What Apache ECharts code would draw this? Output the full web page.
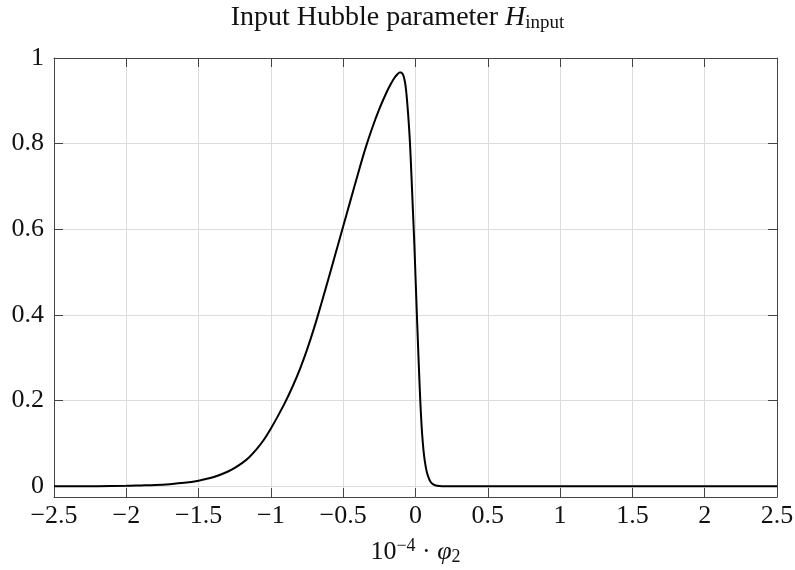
<!DOCTYPE html>
<html>
<head>
<meta charset="utf-8">
<script src="https://cdn.jsdelivr.net/npm/echarts@6/dist/echarts.min.js"></script>
<style>
html,body{margin:0;padding:0;background:#fff;}
#chart{width:795px;height:570px;}
</style>
</head>
<body>
<div id="chart"></div>
<script>
// x values (units of 1e-4 · φ2)
const xValues = [-2.5, -2.2, -2.0, -1.9, -1.8, -1.7, -1.6, -1.5, -1.45, -1.4, -1.35, -1.3, -1.25, -1.2, -1.15, -1.1, -1.05, -1.0,
  -0.95, -0.9, -0.85, -0.8, -0.75, -0.7, -0.65, -0.6, -0.55, -0.5, -0.45, -0.4, -0.35, -0.3, -0.25, -0.2, -0.17, -0.145,
  -0.125, -0.11, -0.1, -0.09, -0.08, -0.068, -0.057, -0.047, -0.038, -0.028, -0.018, -0.008, 0.0, 0.008, 0.016, 0.024, 0.033,
  0.042, 0.051, 0.06, 0.07, 0.08, 0.093, 0.105, 0.12, 0.14, 0.166, 0.2, 0.3, 1.0, 2.5];
// H_input values
const yValues = [0, 0.0002, 0.001, 0.002, 0.003, 0.005, 0.008, 0.013, 0.017, 0.021, 0.027, 0.034, 0.043, 0.054, 0.068, 0.086, 0.108, 0.135,
  0.165, 0.197, 0.233, 0.273, 0.319, 0.371, 0.428, 0.487, 0.547, 0.607, 0.667, 0.727, 0.785, 0.836, 0.881, 0.920, 0.940, 0.954,
  0.962, 0.966, 0.966, 0.963, 0.955, 0.933, 0.895, 0.850, 0.800, 0.725, 0.645, 0.565, 0.490, 0.415, 0.343, 0.273, 0.200,
  0.142, 0.100, 0.070, 0.047, 0.031, 0.018, 0.010, 0.005, 0.002, 0.0007, 0.0002, 0, 0, 0];
const yTicks = [0, 0.2, 0.4, 0.6, 0.8, 1];
const titleText = 'Input Hubble parameter ';

const fmt = v => String(v).replace('-', '\u2212');
const FONT = '"Liberation Serif", "DejaVu Serif", serif';
const frameColor = '#444';
const gridColor = '#dcdcdc';
const FS = 26;

const chart = echarts.init(document.getElementById('chart'), null, {renderer: 'canvas'});
chart.setOption({
  animation: false,
  backgroundColor: '#fff',
  title: {
    text: titleText + '{h|H}{s|input}',
    left: 'center', top: 3, padding: 0,
    textStyle: {
      fontFamily: FONT, fontSize: 28, fontWeight: 'normal', color: '#111',
      rich: {
        h: {fontFamily: FONT, fontSize: 28, fontStyle: 'italic', color: '#111'},
        s: {fontFamily: FONT, fontSize: 19, color: '#111', padding: [11, 0, 0, 0]}
      }
    }
  },
  grid: {left: 54, right: 18, top: 58, bottom: 73, outerBoundsMode: 'none', containLabel: false},
  xAxis: [{
    type: 'value', min: -2.5, max: 2.5, interval: 0.5,
    name: '10{sup|\u22124} \u00b7 {i|\u03c6}{sub|2}',
    nameLocation: 'middle', nameGap: 40,
    nameTextStyle: {
      fontFamily: FONT, fontSize: FS, color: '#111',
      rich: {
        sup: {fontFamily: FONT, fontSize: 18, color: '#111', padding: [0, 0, 12, 0]},
        i: {fontFamily: FONT, fontSize: FS, fontStyle: 'italic', color: '#111'},
        sub: {fontFamily: FONT, fontSize: 18, color: '#111', padding: [10, 0, 0, 0]}
      }
    },
    axisLine: {show: true, onZero: false, lineStyle: {color: frameColor, width: 1}},
    axisTick: {show: true, inside: true, length: 9, lineStyle: {color: frameColor}},
    axisLabel: {fontFamily: FONT, fontSize: FS, color: '#111', margin: 6, formatter: fmt},
    splitLine: {show: true, lineStyle: {color: gridColor, width: 1}}
  }, {
    type: 'value', position: 'top', min: -2.5, max: 2.5, interval: 0.5,
    axisLine: {show: true, onZero: false, lineStyle: {color: frameColor, width: 1}},
    axisTick: {show: true, inside: true, length: 9, lineStyle: {color: frameColor}},
    axisLabel: {show: false},
    splitLine: {show: false}
  }],
  yAxis: [{
    type: 'value', min: -0.025, max: 1,
    axisLine: {show: true, onZero: false, lineStyle: {color: frameColor, width: 1}},
    axisTick: {show: true, inside: true, length: 9, lineStyle: {color: frameColor}, customValues: yTicks},
    axisLabel: {fontFamily: FONT, fontSize: FS, color: '#111', margin: 10, customValues: yTicks, formatter: fmt},
    splitLine: {show: true, lineStyle: {color: gridColor, width: 1}}
  }, {
    type: 'value', position: 'right', min: -0.025, max: 1,
    axisLine: {show: true, onZero: false, lineStyle: {color: frameColor, width: 1}},
    axisTick: {show: true, inside: true, length: 9, lineStyle: {color: frameColor}, customValues: yTicks},
    axisLabel: {show: false, customValues: yTicks},
    splitLine: {show: false}
  }],
  series: [{
    type: 'line',
    xAxisIndex: 0, yAxisIndex: 0,
    data: xValues.map((x, i) => [x, yValues[i]]),
    showSymbol: false,
    smooth: 0.3,
    lineStyle: {color: '#000', width: 2},
    z: 5
  }]
});
</script>
</body>
</html>
